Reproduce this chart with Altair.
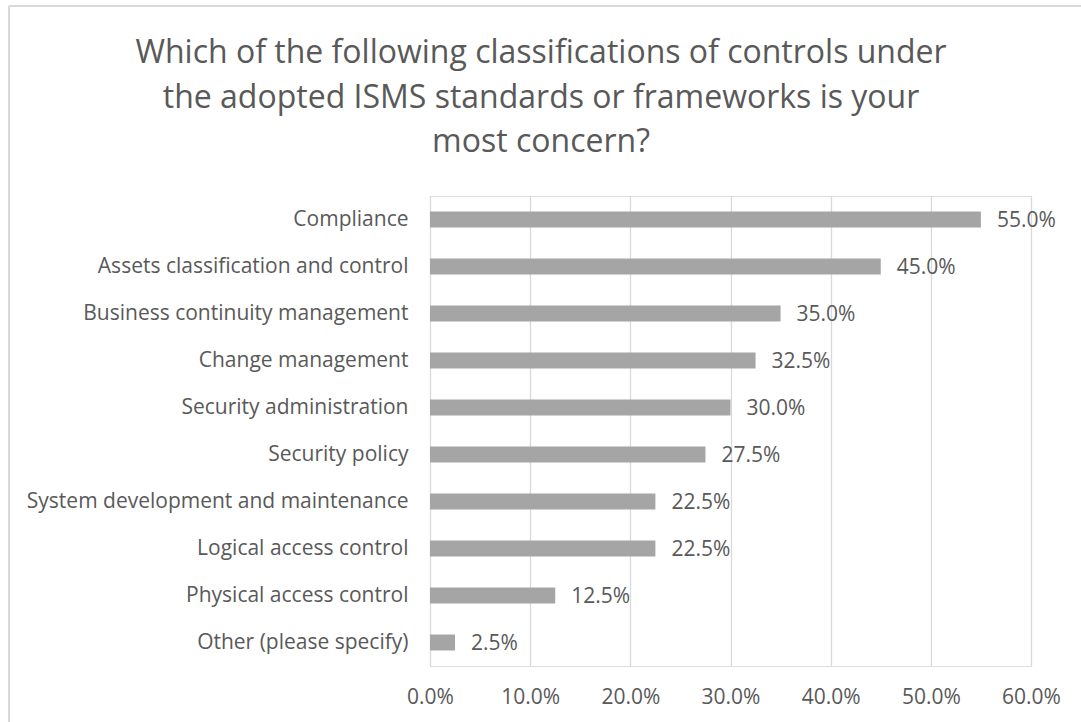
import altair as alt
import pandas as pd

categories = [
    "Compliance",
    "Assets classification and control",
    "Business continuity management",
    "Change management",
    "Security administration",
    "Security policy",
    "System development and maintenance",
    "Logical access control",
    "Physical access control",
    "Other (please specify)",
]
values = [0.55, 0.45, 0.35, 0.325, 0.30, 0.275, 0.225, 0.225, 0.125, 0.025]
x_ticks = [0, 0.1, 0.2, 0.3, 0.4, 0.5, 0.6]
title_lines = ["Which of the following classifications of controls under",
               "the adopted ISMS standards or frameworks is your",
               "most concern?"]

df = pd.DataFrame({"category": categories, "value": values})

FONT = "Open Sans"
TEXT = "#595959"
FS = 21

y_enc = alt.Y("category:N", sort=categories, title=None,
              scale=alt.Scale(paddingInner=0.66, paddingOuter=0.33),
              axis=alt.Axis(ticks=False, domain=False, labelPadding=22,
                            labelFontSize=FS, labelColor=TEXT, labelFont=FONT,
                            labelLimit=420, grid=False))
x_enc = alt.X("value:Q", title=None,
              scale=alt.Scale(domain=[0, 0.6], nice=False),
              axis=alt.Axis(values=x_ticks, format=".1%", ticks=False, domain=False,
                            labelPadding=20, labelFontSize=FS, labelColor=TEXT,
                            labelFont=FONT, gridColor="#d9d9d9", gridWidth=1.3,
                            labelFlush=False))

bars = alt.Chart(df).mark_bar(color="#a5a5a5").encode(x=x_enc, y=y_enc)
labels = alt.Chart(df).mark_text(align="left", baseline="middle", dx=16, dy=1,
                                 fontSize=FS, color=TEXT, font=FONT).encode(
    x="value:Q", y=alt.Y("category:N", sort=categories),
    text=alt.Text("value:Q", format=".1%"))

title_df = pd.DataFrame({"t": [title_lines]})
title = alt.Chart(title_df).mark_text(
    align="center", baseline="alphabetic", fontSize=32, font=FONT, color=TEXT,
    lineHeight=44.5).encode(x=alt.value(111), y=alt.value(-133), text="t")

left_border = alt.Chart(df).mark_rule(color="#d9d9d9", strokeWidth=1.5).encode(
    x=alt.value(-421), y=alt.value(-190), y2=alt.value(540))
top_border = alt.Chart(df).mark_rule(color="#d9d9d9", strokeWidth=1.5).encode(
    x=alt.value(-421), x2=alt.value(660), y=alt.value(-190))

chart = alt.layer(bars, labels, title, left_border, top_border).properties(
    width=601, height=470,
    autosize=alt.AutoSizeParams(type="none"),
    padding={"left": 430, "top": 196, "right": 50, "bottom": 56},
).configure_view(stroke=None).configure(background="white")

chart.save("out.html", embed_options={"renderer": "svg", "actions": False})
